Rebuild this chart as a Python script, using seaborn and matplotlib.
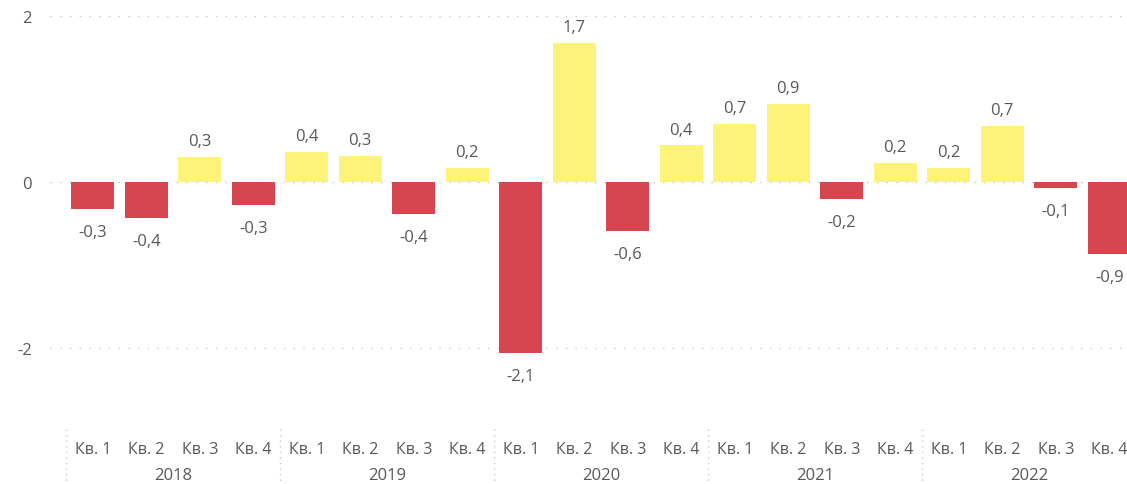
import matplotlib
matplotlib.use("Agg")
import matplotlib.pyplot as plt
import seaborn as sns
import pandas as pd

# Quarterly change values
years = [2018, 2019, 2020, 2021, 2022]
quarters = ["Кв. 1", "Кв. 2", "Кв. 3", "Кв. 4"]
values = [-0.33, -0.43, 0.30, -0.28,
          0.36, 0.31, -0.39, 0.17,
          -2.06, 1.68, -0.59, 0.44,
          0.70, 0.94, -0.20, 0.23,
          0.17, 0.67, -0.07, -0.87]

RED = "#D64550"
YELLOW = "#FDF27A"
TEXT = "#5A5856"

periods = [f"{y} {q}" for y in years for q in quarters]
df = pd.DataFrame({
    "period": periods,
    "value": values,
    "sign": ["pos" if v >= 0 else "neg" for v in values],
})

sns.set_theme(style="white")
plt.rcParams["font.family"] = ["Open Sans", "DejaVu Sans"]

fig = plt.figure(figsize=(11.27, 4.85), dpi=100)
ax = fig.add_axes([50 / 1127, 1 - 423.7 / 485, (1136 - 50) / 1127, 415 / 485])

sns.barplot(data=df, x="period", y="value", hue="sign", order=periods,
            palette={"pos": YELLOW, "neg": RED}, dodge=False, width=0.8,
            saturation=1, legend=False, ax=ax, zorder=2, edgecolor="none")

ax.set_ylim(-2.9, 2.1)
ax.set_xlim(-0.8, 19.5)
for s in ax.spines.values():
    s.set_visible(False)

# dotted gridlines
ax.set_yticks([-2, 0, 2])
ax.set_yticklabels(["-2", "0", "2"], color=TEXT, fontsize=12)
ax.tick_params(axis="y", length=0, pad=13)
for yv in [-2, 0, 2]:
    ax.axhline(yv, color="#C8C8C8", lw=1.0, ls=(0, (1, 6)), zorder=1)

# value labels
for i, v in enumerate(values):
    txt = f"{v:.1f}".replace(".", ",")
    off = 11.5 if v >= 0 else -16.5
    ax.annotate(txt, (i, v), xytext=(0, off), textcoords="offset points",
                ha="center", va="center", color=TEXT, fontsize=12)

# hierarchical x axis: quarters and years
ax.set_xticks([])
ax.set_xlabel("")
ax.set_ylabel("")
tr = ax.get_xaxis_transform()
for i, p in enumerate(periods):
    ax.text(i, -0.0634, quarters[i % 4], transform=tr, ha="center", va="center",
            color=TEXT, fontsize=11.5, clip_on=False)
for k, y in enumerate(years):
    ax.text(4 * k + 1.5, -0.126, str(y), transform=tr, ha="center", va="center",
            color=TEXT, fontsize=12, clip_on=False)
for k in range(len(years) + 1):
    ax.plot([4 * k - 0.5, 4 * k - 0.5], [-0.015, -0.15], transform=tr,
            color="#C8C8C8", lw=1.0, ls=(0, (1, 3)), clip_on=False)

fig.savefig("out.png", dpi=100)
